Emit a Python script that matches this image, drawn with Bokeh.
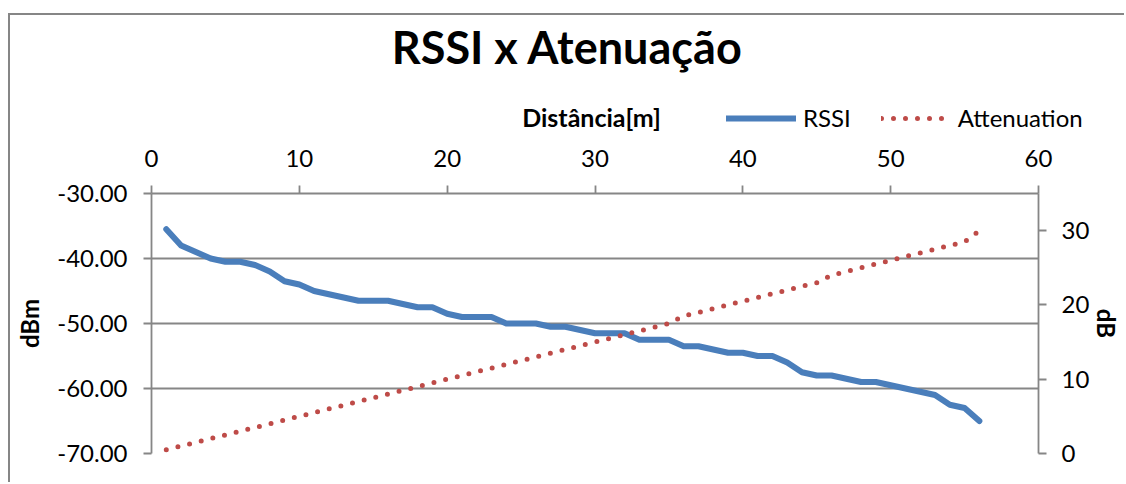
from bokeh.plotting import figure
from bokeh.layouts import column
from bokeh.models import (LinearAxis, Range1d, Legend, LegendItem, FixedTicker,
                          NumeralTickFormatter, Label)
from bokeh.embed import file_html
from bokeh.resources import INLINE

# ---- data ----
distance = list(range(1, 57))
rssi = [-35.5, -38.0, -39.0, -40.0, -40.5, -40.5, -41.0, -42.0, -43.5, -44.0,
        -45.0, -45.5, -46.0, -46.5, -46.5, -46.5, -47.0, -47.5, -47.5, -48.5,
        -49.0, -49.0, -49.0, -50.0, -50.0, -50.0, -50.5, -50.5, -51.0, -51.5,
        -51.5, -51.5, -52.5, -52.5, -52.5, -53.5, -53.5, -54.0, -54.5, -54.5,
        -55.0, -55.0, -56.0, -57.5, -58.0, -58.0, -58.5, -59.0, -59.0, -59.5,
        -60.0, -60.5, -61.0, -62.5, -63.0, -65.0]
attenuation = [0.5, 1.0, 1.5, 2.0, 2.5, 3.0, 3.5, 4.0, 4.5, 5.0,
               5.5, 6.0, 6.5, 7.0, 7.5, 8.0, 8.5, 9.0, 9.5, 10.0,
               10.5, 11.0, 11.5, 12.0, 12.5, 13.0, 13.5, 14.0, 14.5, 15.0,
               15.5, 16.0, 16.5, 17.0, 17.5, 18.5, 19.0, 19.5, 20.0, 20.5,
               21.0, 21.5, 22.0, 22.5, 23.0, 24.0, 24.5, 25.0, 25.5, 26.0,
               26.5, 27.0, 27.5, 28.0, 28.5, 30.0]
x_ticks = [0, 10, 20, 30, 40, 50, 60]
rssi_ticks = [-70, -60, -50, -40, -30]
att_ticks = [0, 10, 20, 30]

title_text = "RSSI x Atenuação"
x_label = "Distância[m]"
left_label = "dBm"
right_label = "dB"
series_names = ["RSSI", "Attenuation"]

FONT = "Lato"
GRAY = "#868686"
BLUE = "#4A7EBB"
RED = "#BE4B48"
W = 1114
H_TOP = 120
H_BOT = 347

# ---------- header figure: title, x-axis title and legend ----------
head = figure(width=W, height=H_TOP, output_backend="svg", toolbar_location=None,
              x_range=Range1d(0, W), y_range=Range1d(H_TOP, 0),
              x_axis_type=None, y_axis_type=None, title_location=None,
              min_border=0, min_border_left=0, min_border_right=0,
              min_border_top=0, min_border_bottom=0)
head.frame_align = False
head.outline_line_color = None
head.background_fill_color = "white"
head.border_fill_color = "white"
head.extra_y_ranges = {"hidden": Range1d(1000, 1001)}

head.add_layout(Label(x=557, y=31, text=title_text, text_align="center",
                      text_baseline="middle", text_font=FONT,
                      text_font_size="45px", text_font_style="bold",
                      text_color="black"))
head.add_layout(Label(x=581, y=101, text=x_label, text_align="center",
                      text_baseline="middle", text_font=FONT,
                      text_font_size="25px", text_font_style="bold",
                      text_color="black"))

# legend keys: the same series, drawn on a range that keeps them off-canvas
k1 = head.line(distance, rssi, y_range_name="hidden", line_color=BLUE,
               line_width=6, line_cap="round")
k2 = head.line(distance, attenuation, y_range_name="hidden", line_color=RED,
               line_width=5, line_dash="0 12", line_cap="round")
legend = Legend(items=[LegendItem(label=series_names[0], renderers=[k1]),
                       LegendItem(label=series_names[1], renderers=[k2])],
                orientation="horizontal", location=(716, 3),
                glyph_width=70, glyph_height=20, label_standoff=7, spacing=30,
                padding=0, margin=0, border_line_color=None,
                background_fill_alpha=0,
                label_text_font=FONT, label_text_font_size="24px",
                label_text_color="black")
head.add_layout(legend, "center")

# ---------- main chart ----------
p = figure(width=W, height=H_BOT, output_backend="svg", toolbar_location=None,
           x_range=Range1d(0, 60), y_range=Range1d(-70, -30),
           x_axis_location="above",
           min_border_left=141, min_border_right=81,
           min_border_top=58, min_border_bottom=29)
p.frame_align = False
p.extra_y_ranges = {"att": Range1d(0, 35)}
p.outline_line_color = None
p.background_fill_color = "white"
p.border_fill_color = "white"

p.xgrid.visible = False
p.ygrid.ticker = FixedTicker(ticks=rssi_ticks)
p.ygrid.grid_line_color = GRAY
p.ygrid.grid_line_width = 1.8

def style_axis(ax):
    ax.axis_line_color = GRAY
    ax.axis_line_width = 1.8
    ax.major_tick_line_color = GRAY
    ax.major_tick_line_width = 1.8
    ax.major_tick_out = 8
    ax.major_tick_in = 0
    ax.minor_tick_line_color = None
    ax.major_label_text_font = FONT
    ax.major_label_text_font_size = "24px"
    ax.major_label_text_color = "black"
    ax.axis_label_text_font = FONT
    ax.axis_label_text_font_size = "24px"
    ax.axis_label_text_font_style = "bold"
    ax.axis_label_text_color = "black"

xa = p.xaxis[0]
style_axis(xa)
xa.ticker = FixedTicker(ticks=x_ticks)
xa.major_label_standoff = 19

ya = p.yaxis[0]
style_axis(ya)
ya.ticker = FixedTicker(ticks=rssi_ticks)
ya.formatter = NumeralTickFormatter(format="0.00")
ya.axis_label = left_label
ya.major_label_standoff = 16
ya.axis_label_standoff = 10

ra = LinearAxis(y_range_name="att", ticker=FixedTicker(ticks=att_ticks))
style_axis(ra)
ra.major_label_standoff = 15
ra.axis_label = right_label
ra.axis_label_standoff = 0
p.add_layout(ra, "right")

p.line(distance, rssi, line_color=BLUE, line_width=6,
       line_join="round", line_cap="round")
p.line(distance, attenuation, y_range_name="att", line_color=RED,
       line_width=5, line_dash="0 12", line_cap="round")

layout = column(head, p, spacing=0,
                styles={"margin-left": "8px", "margin-top": "13px",
                        "border-left": "2px solid #868686",
                        "border-top": "2px solid #868686"})

open("out.html", "w").write(file_html(layout, INLINE))
